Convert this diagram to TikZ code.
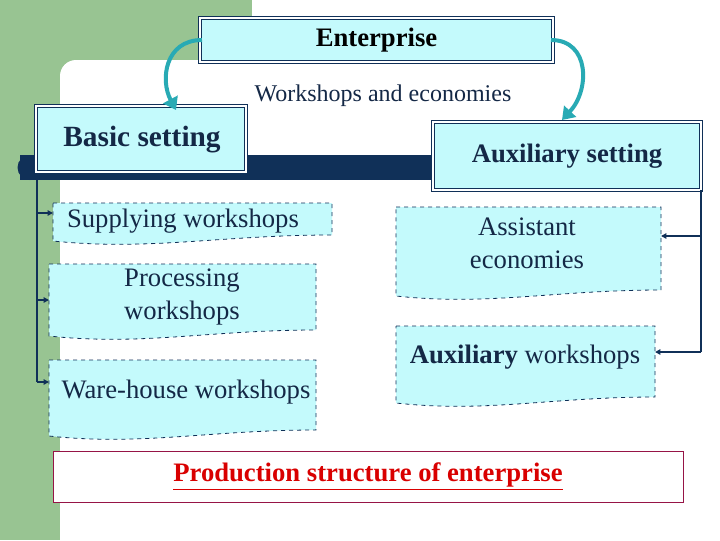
\documentclass[tikz,border=0pt]{standalone}
\usepackage{fontspec}
\setmainfont{Liberation Serif}
\usetikzlibrary{arrows.meta}
\definecolor{bg}{RGB}{152,196,146}
\definecolor{navy}{RGB}{16,48,88}
\definecolor{tx}{RGB}{20,40,70}
\definecolor{lc}{RGB}{196,250,252}
\definecolor{teal}{RGB}{40,170,180}
\definecolor{crim}{RGB}{150,20,70}
\newcommand{\docb}[4]{\draw[navy,dashed,fill=lc,line width=0.6pt] (#1,#2) -- (#3,#2) -- (#3,{#4-8}) .. controls ({#1+0.6*(#3-#1)},{#4-8}) and ({#1+0.35*(#3-#1)},{#4+8}) .. (#1,{#4-2}) -- cycle;}
\begin{document}
\begin{tikzpicture}[x=0.75pt,y=-0.75pt,
  hdr/.style={draw=navy,double=white,double distance=1pt,line width=1pt,fill=lc,inner sep=0pt,font=\bfseries,text=black},
  txt/.style={text=tx,align=center,inner sep=0pt,font=\fontsize{20}{25}\selectfont},
  br/.style={navy,line width=1.2pt,-{Triangle[length=4pt,width=4pt]}},
  cur/.style={teal,line width=3pt,-{Triangle[length=9pt,width=12pt]}}]
\useasboundingbox (0,0) rectangle (720,540);
\fill[bg] (0,0) rectangle (720,540);
\fill[white] (252,0) rectangle (720,60);
\fill[white,rounded corners=12pt] (60,60) rectangle (740,560);
% bar
\fill[navy] (20,155) rectangle (435,180);
\fill[navy] (30,167.5) circle (12.5);
% boxes
\node[hdr,minimum width=353*0.75pt,minimum height=44*0.75pt,font=\bfseries\fontsize{20}{22}\selectfont] (ent) at (376.5,40) {Enterprise};
\node[text=tx,inner sep=0pt,font=\fontsize{18}{20}\selectfont] (we) at (383,96) {Workshops and economies};
\node[hdr,minimum width=210*0.75pt,minimum height=66*0.75pt,text=tx,font=\bfseries\fontsize{22}{24}\selectfont] (bas) at (141,139) {};
\node[text=tx,font=\bfseries\fontsize{22}{24}\selectfont,inner sep=0pt] (bast) at (142,140) {Basic setting};
\node[hdr,minimum width=268*0.75pt,minimum height=68*0.75pt,text=tx,font=\bfseries\fontsize{20}{22}\selectfont] (aux) at (567,156) {Auxiliary setting};
% document boxes
\docb{53}{203}{332}{243}
\docb{49}{264}{316}{338}
\docb{49}{360}{316}{438}
\docb{396}{207}{661}{298}
\docb{396}{326}{655}{405}
\node[txt] (sup) at (183,221) {Supplying workshops};
\node[txt,align=left] (pro) at (182,297) {Processing\\workshops};
\node[txt] (war) at (186,392) {Ware-house workshops};
\node[txt] (ass) at (527,243) {Assistant\\economies};
\node[txt] (aws) at (525,357) {\textbf{Auxiliary} workshops};
\coordinate (lt) at (37,180);
\coordinate (lb) at (37,382);
\coordinate (rt) at (701,190);
\coordinate (rb) at (701,352);
\draw[navy,line width=1.2pt] (lt) -- (lb);
\draw[br] (37,213) -- (53,213);
\draw[br] (37,300) -- (49,300);
\draw[br] (lb) -- (49,382);
\draw[navy,line width=1.2pt] (rt) -- (rb);
\draw[br] (701,236) -- (661,236);
\draw[br] (rb) -- (655,352);
% curved arrows
\draw[cur] ([xshift=2pt]ent.west) .. controls (165,40) and (160,80) .. (176,110);
\draw[cur] ([xshift=-2pt]ent.east) .. controls (590,40) and (590,90) .. (562,120);
% title
\node[draw=crim,fill=white,minimum width=630*0.75pt,minimum height=51*0.75pt,text=red!85!black,font=\bfseries\fontsize{20}{22}\selectfont] (tit) at (368,476.5) {\underline{Production structure of enterprise}};
\end{tikzpicture}
\end{document}
